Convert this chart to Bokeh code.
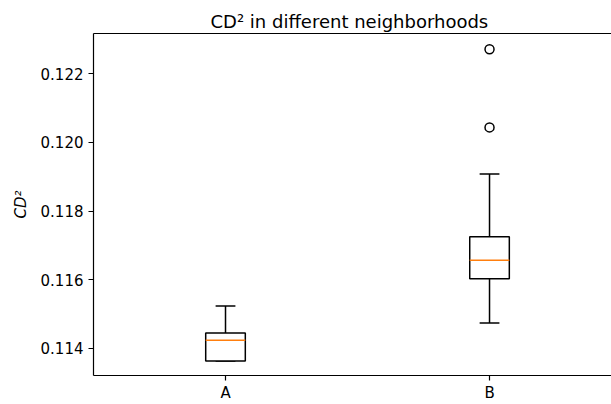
from bokeh.plotting import figure
from bokeh.models import FixedTicker, LinearAxis, Range1d, ColumnDataSource, PrintfTickFormatter
from bokeh.embed import file_html
from bokeh.resources import INLINE

# ---- data ----
categories = ["A", "B"]
q1 = [0.11362, 0.11602]
median = [0.11423, 0.11656]
q3 = [0.11444, 0.11725]
whisker_low = [0.11362, 0.11473]
whisker_high = [0.11523, 0.11908]
outlier_cat = ["B", "B"]
outlier_val = [0.12044, 0.12272]
y_ticks = [0.114, 0.116, 0.118, 0.120, 0.122]
title_text = "CD² in different neighborhoods"
y_label = "CD²"

FONT = "DejaVu Sans"
BOX_W = 0.15
CAP_W = 0.075

pos = [i + 1 for i in range(len(categories))]
cat_pos = {c: i + 1 for i, c in enumerate(categories)}

src = ColumnDataSource(dict(
    x=pos,
    q1=q1, med=median, q3=q3, lo=whisker_low, hi=whisker_high,
    xl=[x - BOX_W / 2 for x in pos], xr=[x + BOX_W / 2 for x in pos],
    cl=[x - CAP_W / 2 for x in pos], cr=[x + CAP_W / 2 for x in pos],
))
out_src = ColumnDataSource(dict(x=[cat_pos[c] for c in outlier_cat], y=outlier_val))

p = figure(width=611, height=404, output_backend="svg", toolbar_location=None,
           x_range=Range1d(0.5, 2.462), y_range=Range1d(0.11320, 0.12318),
           min_border_left=93, min_border_right=0, min_border_top=33, min_border_bottom=27,
           title=title_text)
p.outline_line_color = None
p.grid.visible = False
p.background_fill_color = "white"
p.border_fill_color = "white"

LW = 1.5
p.segment(x0="x", y0="q3", x1="x", y1="hi", source=src, line_color="black", line_width=LW)
p.segment(x0="x", y0="q1", x1="x", y1="lo", source=src, line_color="black", line_width=LW)
p.segment(x0="cl", y0="hi", x1="cr", y1="hi", source=src, line_color="black", line_width=LW)
p.segment(x0="cl", y0="lo", x1="cr", y1="lo", source=src, line_color="black", line_width=LW)
p.quad(left="xl", right="xr", bottom="q1", top="q3", source=src,
       fill_color="white", line_color="black", line_width=LW)
p.segment(x0="xl", y0="med", x1="xr", y1="med", source=src, line_color="#ff7f0e", line_width=LW)
p.scatter(x="x", y="y", source=out_src, marker="circle", size=9,
          fill_color=None, line_color="black", line_width=1.5)

for ax in (p.xaxis[0], p.yaxis[0]):
    ax.axis_line_color = "black"
    ax.axis_line_width = 1.2
    ax.major_tick_line_color = "black"
    ax.major_tick_line_width = 1.2
    ax.major_tick_out = 5
    ax.major_tick_in = 0
    ax.minor_tick_line_color = None
    ax.major_label_text_font = FONT
    ax.major_label_text_font_size = "15px"
    ax.major_label_text_color = "black"

p.xaxis[0].ticker = FixedTicker(ticks=pos)
p.xaxis[0].major_label_overrides = {x: c for x, c in zip(pos, categories)}
p.xaxis[0].major_label_standoff = 3
p.yaxis[0].ticker = FixedTicker(ticks=y_ticks)
p.yaxis[0].formatter = PrintfTickFormatter(format="%.3f")
p.yaxis[0].major_label_standoff = 5
p.yaxis[0].axis_label = y_label
p.yaxis[0].axis_label_text_font = FONT
p.yaxis[0].axis_label_text_font_size = "15px"
p.yaxis[0].axis_label_text_font_style = "italic"
p.yaxis[0].axis_label_text_color = "black"
p.yaxis[0].axis_label_standoff = 8

top = LinearAxis(ticker=FixedTicker(ticks=[]), major_tick_out=0, major_tick_in=0,
                 minor_tick_line_color=None, major_label_text_font_size="0px",
                 axis_line_color="black", axis_line_width=1.2)
p.add_layout(top, "above")

p.title.text_font = FONT
p.title.text_font_size = "18px"
p.title.text_font_style = "normal"
p.title.text_color = "black"
p.title.align = "left"
p.title.offset = 117
p.title.standoff = 4

open("out.html", "w").write(file_html(p, INLINE))
